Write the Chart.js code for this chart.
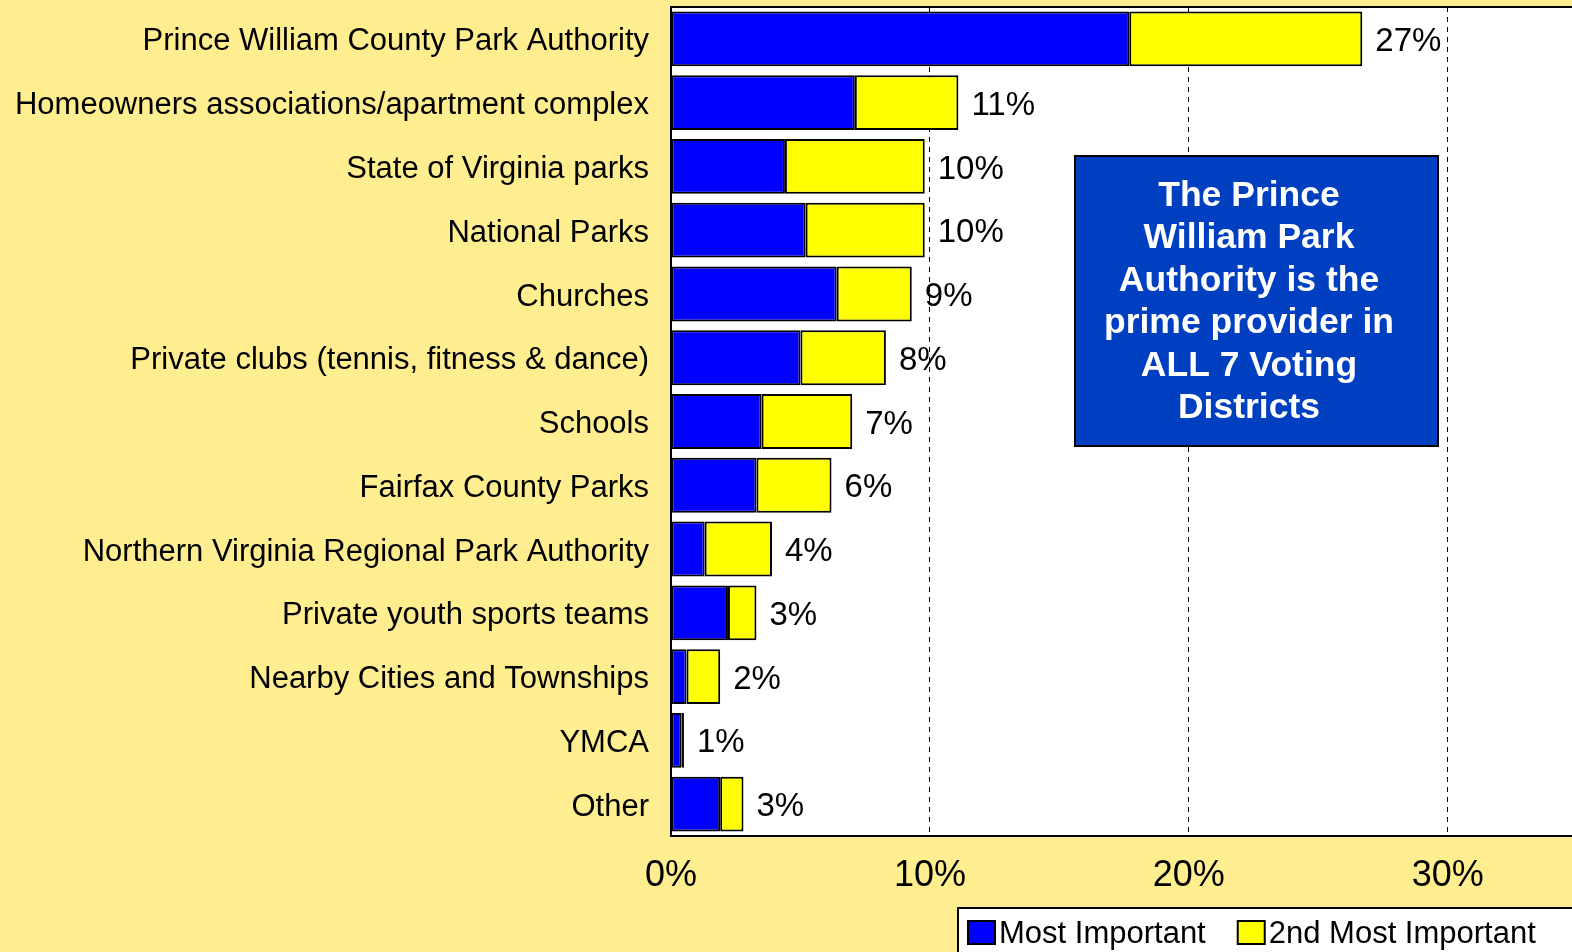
<!DOCTYPE html>
<html>
<head>
<meta charset="utf-8">
<script src="https://cdn.jsdelivr.net/npm/chart.js@4.4.0/dist/chart.umd.min.js"></script>
<style>
  html, body { margin: 0; padding: 0; background: #FFEE90; }
  #wrap { width: 1572px; height: 952px; }
</style>
</head>
<body>
<div id="wrap"><canvas id="my-chart" width="1572" height="952"></canvas></div>
<script>
const providers = [
  'Prince William County Park Authority',
  'Homeowners associations/apartment complex',
  'State of Virginia parks',
  'National Parks',
  'Churches',
  'Private clubs (tennis, fitness & dance)',
  'Schools',
  'Fairfax County Parks',
  'Northern Virginia Regional Park Authority',
  'Private youth sports teams',
  'Nearby Cities and Townships',
  'YMCA',
  'Other'
];
const mostImportant = [17.7, 7.1, 4.4, 5.2, 6.4, 5.0, 3.5, 3.3, 1.3, 2.2, 0.6, 0.4, 1.9];
const secondMostImportant = [9.0, 4.0, 5.4, 4.6, 2.9, 3.3, 3.5, 2.9, 2.6, 1.1, 1.3, 0.1, 0.9];
const totalLabels = ['27%', '11%', '10%', '10%', '9%', '8%', '7%', '6%', '4%', '3%', '2%', '1%', '3%'];
const xTickValues = [0, 10, 20, 30];
const calloutLines = ['The Prince', 'William Park', 'Authority is the', 'prime provider in', 'ALL 7 Voting', 'Districts'];

const FONT = "'Liberation Sans', Arial, sans-serif";
const pageYellow = '#FFEE90';

// background + white plot area
const backdrop = {
  id: 'backdrop',
  beforeDraw(chart) {
    const { ctx, chartArea: a } = chart;
    ctx.save();
    ctx.fillStyle = pageYellow;
    ctx.fillRect(0, 0, chart.width, chart.height);
    ctx.fillStyle = '#fff';
    ctx.fillRect(a.left, a.top, a.right - a.left, a.bottom - a.top);
    ctx.restore();
  }
};

// frame, value labels, callout box and legend
const extras = {
  id: 'extras',
  afterDatasetsDraw(chart) {
    const { ctx, chartArea: a } = chart;
    const xs = chart.scales.x, ys = chart.scales.y;
    ctx.save();
    ctx.strokeStyle = '#000';
    ctx.lineWidth = 2;
    ctx.beginPath();
    ctx.moveTo(chart.width, a.top); ctx.lineTo(a.left, a.top);
    ctx.lineTo(a.left, a.bottom); ctx.lineTo(chart.width, a.bottom);
    ctx.stroke();

    ctx.fillStyle = '#000';
    ctx.font = '33px ' + FONT;
    ctx.textAlign = 'left';
    ctx.textBaseline = 'middle';
    providers.forEach((p, i) => {
      const x = xs.getPixelForValue(mostImportant[i] + secondMostImportant[i]) + 13;
      ctx.fillText(totalLabels[i], x, ys.getPixelForValue(i) + 3);
    });
    ctx.restore();
  },
  afterDraw(chart) {
    const { ctx } = chart;
    ctx.save();
    // callout
    ctx.fillStyle = '#0040C0';
    ctx.fillRect(1075, 156, 363, 290);
    ctx.strokeStyle = '#000';
    ctx.lineWidth = 2;
    ctx.strokeRect(1075, 156, 363, 290);
    ctx.fillStyle = '#fff';
    ctx.font = 'bold 35.5px ' + FONT;
    ctx.textAlign = 'center';
    ctx.textBaseline = 'alphabetic';
    calloutLines.forEach((line, i) => ctx.fillText(line, 1249, 206 + i * 42.4));

    // legend
    ctx.fillStyle = '#fff';
    ctx.fillRect(958, 908, 630, 60);
    ctx.strokeRect(958, 908, 630, 60);
    ctx.font = '31px ' + FONT;
    ctx.textAlign = 'left';
    ctx.textBaseline = 'middle';
    let x = 968;
    chart.data.datasets.forEach(ds => {
      ctx.fillStyle = ds.backgroundColor;
      ctx.fillRect(x, 921, 27, 23);
      ctx.strokeRect(x, 921, 27, 23);
      ctx.fillStyle = '#000';
      ctx.fillText(ds.label, x + 31, 934);
      x += 31 + ctx.measureText(ds.label).width + 32;
    });
    ctx.restore();
  }
};

const ctx = document.getElementById('my-chart').getContext('2d');
new Chart(ctx, {
  type: 'bar',
  data: {
    labels: providers,
    datasets: [
      {
        label: 'Most Important',
        data: mostImportant,
        backgroundColor: '#0000FF',
        borderColor: '#000',
        borderWidth: 2,
        borderSkipped: false
      },
      {
        label: '2nd Most Important',
        data: secondMostImportant,
        backgroundColor: '#FFFF00',
        borderColor: '#000',
        borderWidth: 2,
        borderSkipped: false
      }
    ]
  },
  options: {
    indexAxis: 'y',
    responsive: false,
    devicePixelRatio: 1,
    animation: false,
    layout: { padding: { top: 7, left: 0, right: 0, bottom: 0 } },
    datasets: { bar: { barPercentage: 0.86, categoryPercentage: 1 } },
    plugins: { legend: { display: false }, tooltip: { enabled: false } },
    scales: {
      x: {
        stacked: true,
        min: 0,
        max: 34.8,
        afterBuildTicks: s => { s.ticks = xTickValues.map(v => ({ value: v })); },
        afterFit: s => { s.height = 116; s.paddingLeft = 0; s.paddingRight = 0; },
        ticks: {
          callback: v => v + '%',
          color: '#000',
          font: { family: FONT, size: 36 },
          padding: 18,
          maxRotation: 0
        },
        grid: {
          color: c => (c.tick && c.tick.value > 0) ? '#000' : 'rgba(0,0,0,0)',
          lineWidth: 1,
          drawTicks: false
        },
        border: { display: false, dash: [5, 5] }
      },
      y: {
        stacked: true,
        afterFit: s => { s.width = 671; s.paddingTop = 0; s.paddingBottom = 0; },
        ticks: {
          color: '#000',
          font: { family: FONT, size: 31 },
          padding: 22,
          labelOffset: 3
        },
        grid: { display: false, drawTicks: false },
        border: { display: false }
      }
    }
  },
  plugins: [backdrop, extras]
});
</script>
</body>
</html>
